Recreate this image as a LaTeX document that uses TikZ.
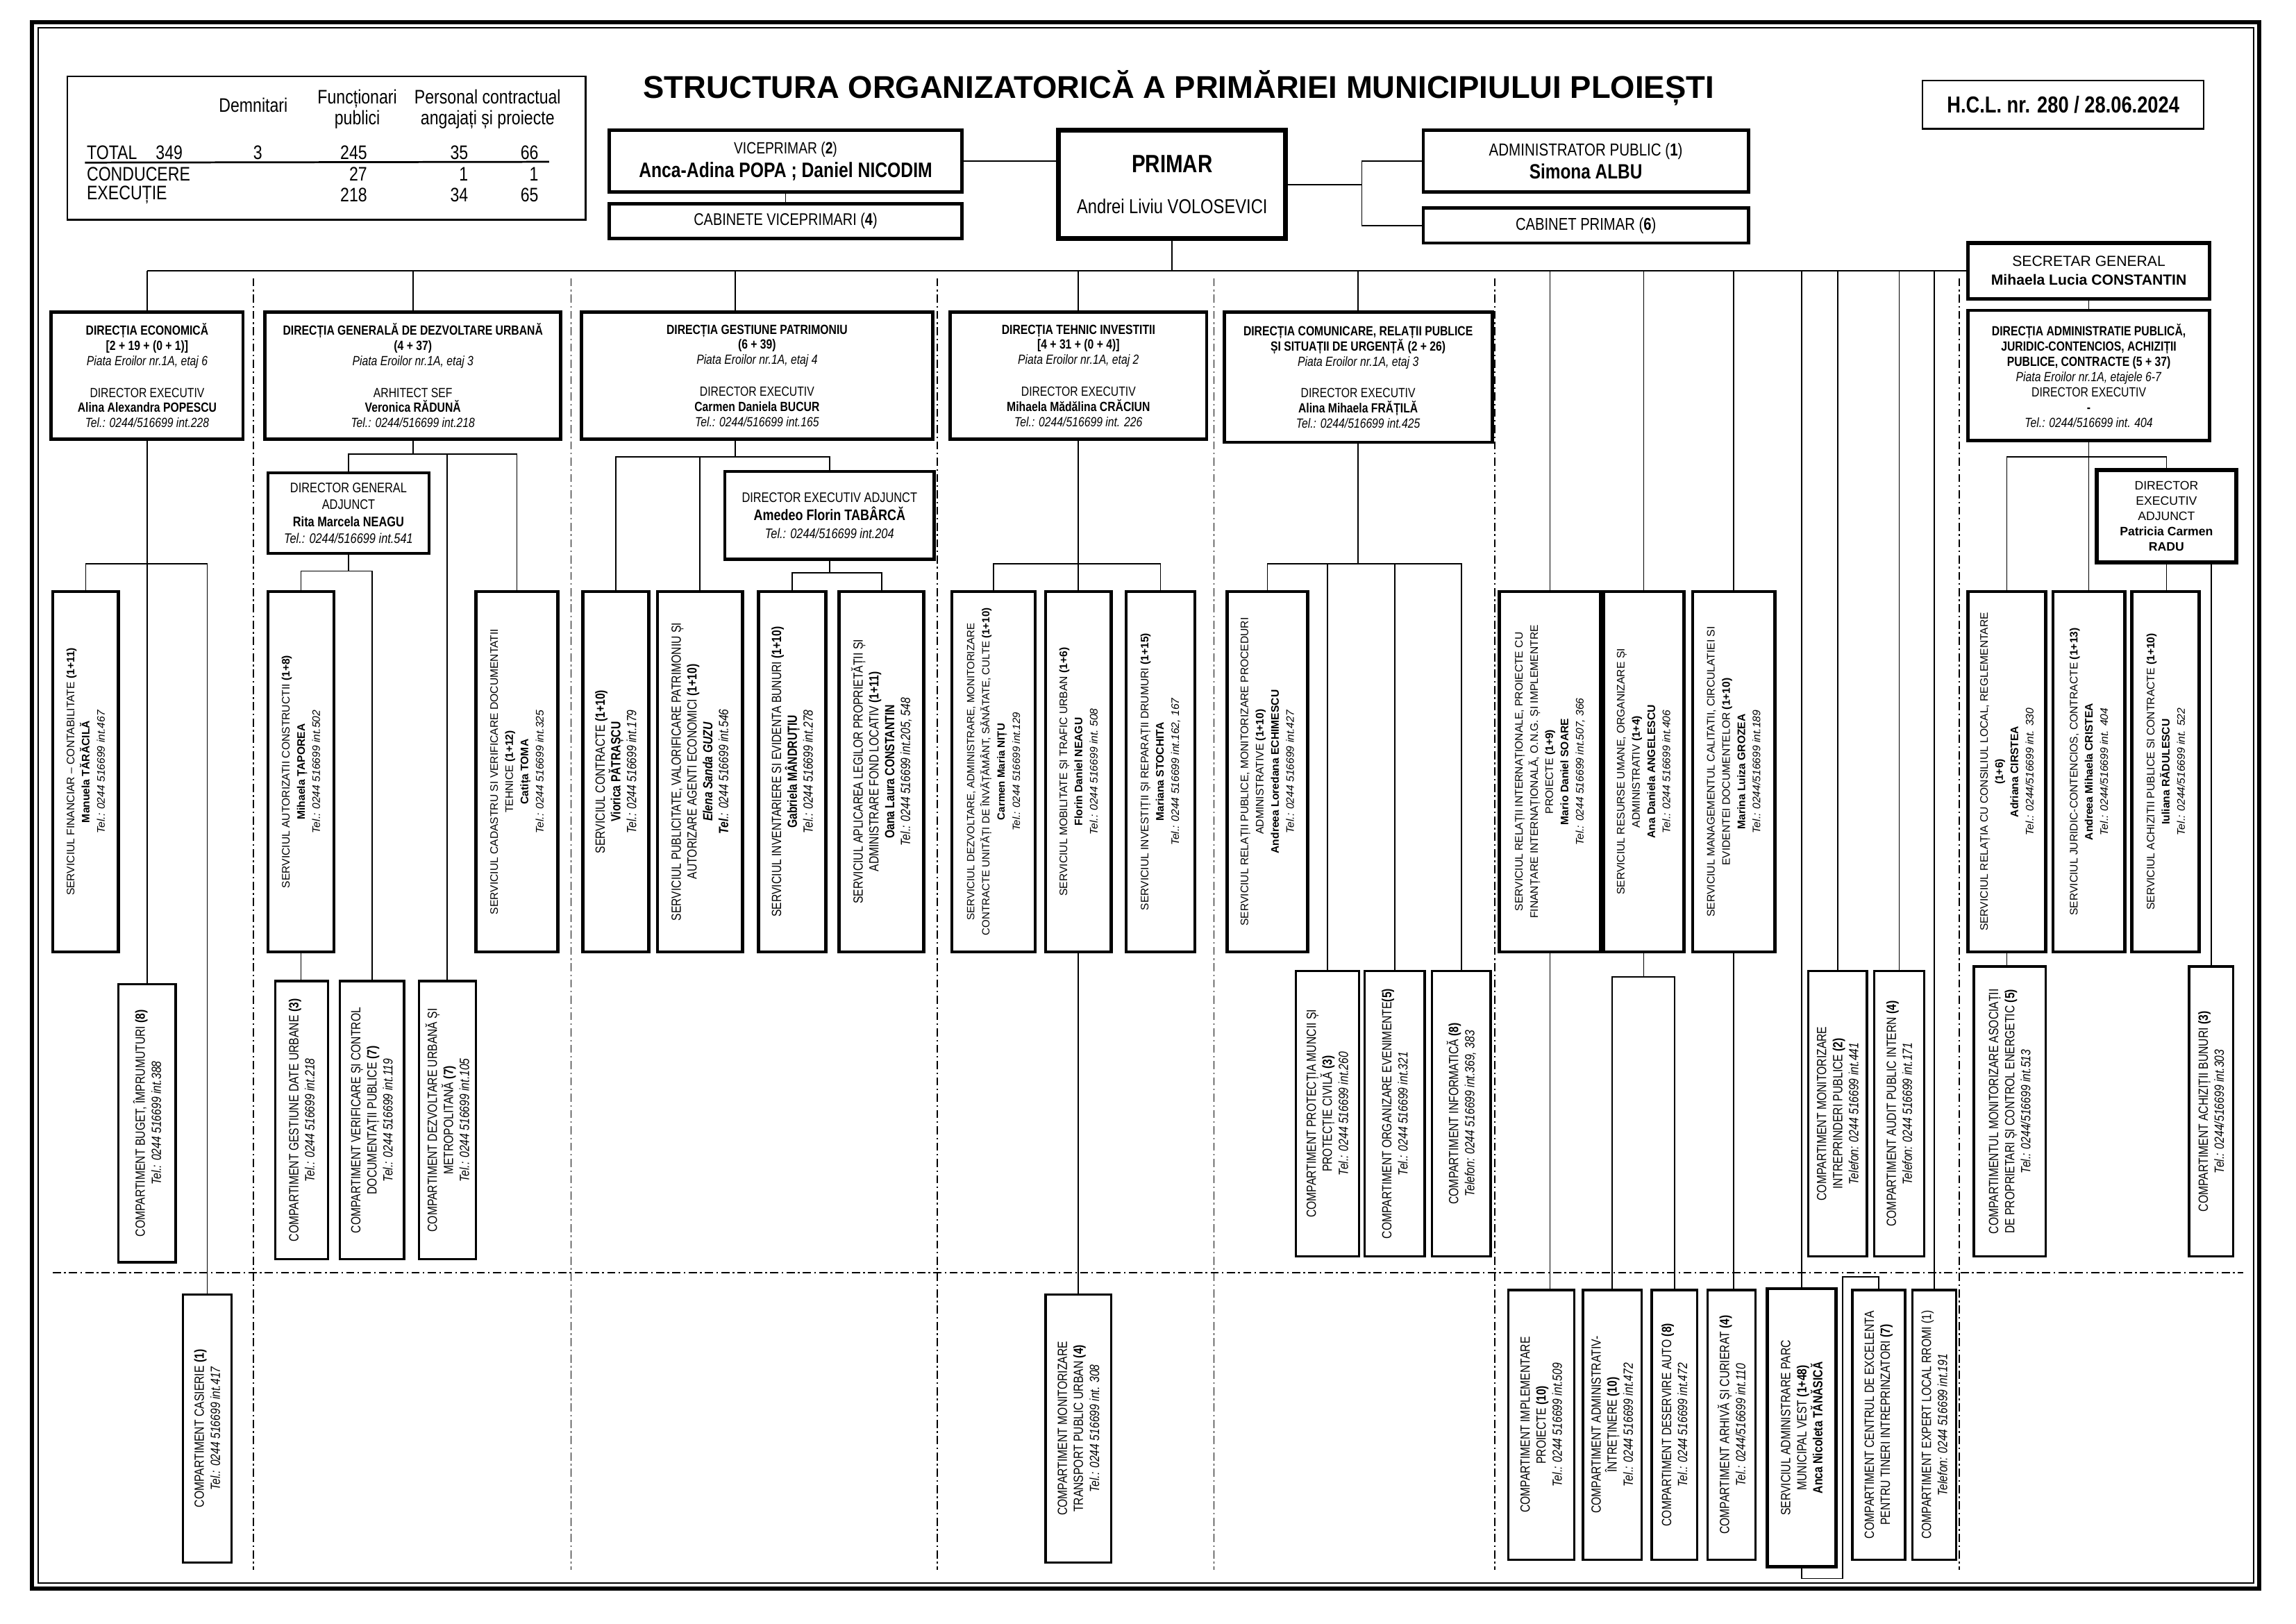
\documentclass[tikz,border=0pt]{standalone}
\usepackage{fontspec}
\setmainfont{Liberation Sans}
\newfontfamily\narrowf{Liberation Sans}[FakeStretch=0.82]
\newcommand{\pu}{0.018941cm}
\newcommand{\setfs}[2]{\fontsize{#1}{#2}\selectfont}
\tikzset{
  cell/.style={draw, fill=white, align=center, inner sep=0pt, outer sep=0pt},
  unit/.style={cell, line width=1.2pt},
  comp/.style={cell, line width=0.85pt},
  hsz/.style 2 args={minimum width=#1*\pu, minimum height=#2*\pu},
  vsz/.style 2 args={rotate=90, minimum width=#2*\pu, minimum height=#1*\pu},
  dirfont/.style={font=\narrowf\setfs{4.9}{5.6}},
  srvfont/.style={font=\setfs{4}{5.6}},
  nsrvfont/.style={font=\narrowf\setfs{4.9}{5.8}},
  cmpfont/.style={font=\narrowf\setfs{4.9}{5.9}},
  link/.style={line width=0.45pt},
}

\begin{document}
\begin{tikzpicture}[x=\pu, y=-\pu,
  sepline/.style={line width=0.45pt, dash pattern=on 3pt off 1.2pt on 0.6pt off 1.2pt}]
  \useasboundingbox (0,0) rectangle (1568,1109);
  \fill[white] (0,0) rectangle (1568,1109);

  % --- chenar
  \draw[line width=1.5pt] (22,15) rectangle (1543,1085);
  \draw[line width=0.5pt] (26,19) rectangle (1539,1081);

  % --- separatoare
  \foreach \x in {173,390,640,829,1021,1338}{ \draw[sepline] (\x,190) -- (\x,1072); }
  \draw[sepline] (36,869) -- (1532,869);

  % --- antet
  \node[font=\bfseries\setfs{11.6}{13}] (title) at (805,60) {STRUCTURA ORGANIZATORICĂ A PRIMĂRIEI MUNICIPIULUI PLOIEȘTI};
  \node[cell, line width=0.6pt, hsz={192}{33}, font=\narrowf\bfseries\setfs{8.5}{10}] (hcl) at (1409,71.5) {H.C.L. nr. 280 / 28.06.2024};

  % --- tabel efective
  \node[cell, line width=0.6pt, hsz={354}{98}] (tbl) at (223,101) {};
  \begin{scope}[font=\narrowf\setfs{7.2}{7.6}, every node/.style={inner sep=0.5pt, align=center}]
    \node (hdem) at (173,72) {Demnitari};
    \node (hfun) at (244,74.5) {Funcționari\\publici};
    \node (hpc)  at (333,74.5) {Personal contractual\\angajați și proiecte};
    \node[anchor=west] (rtot) at (58,104) {TOTAL};
    \node[anchor=west] (rcon) at (58,119) {CONDUCERE};
    \node[anchor=west] (rexe) at (58,133) {EXECUȚIE};
    \node[anchor=east] (vtot) at (126,104) {349};
    \node (vdem) at (176,104) {3};
    \foreach \v/\x/\y in {245/252/104, 35/321/104, 66/369/104, 27/252/119, 1/321/119, 1/369/119, 218/252/133, 34/321/133, 65/369/133}{
      \node[anchor=east] (v-\x-\y) at (\x,\y) {\v}; }
  \end{scope}
  \draw[line width=0.7pt] (rtot.south west) ++(0,1) -- (375,110.5);

  % --- conducere
  \node[unit, hsz={241}{42}, font=\narrowf\setfs{6}{8.6}] (vice) at (536.5,110) {VICEPRIMAR (\textbf{2})\\{\setfs{7.7}{8.6}\bfseries Anca-Adina POPA ; Daniel NICODIM}};
  \node[unit, hsz={241}{24}, font=\narrowf\setfs{6.2}{7}] (cabv) at (536.5,151) {CABINETE VICEPRIMARI (\textbf{4})};
  \node[unit, line width=1.8pt, hsz={155}{74}, font=\narrowf\setfs{7.4}{10}] (primar) at (800.5,126) {{\setfs{9.2}{10}\bfseries PRIMAR}\\[5pt]Andrei Liviu VOLOSEVICI};
  \node[unit, hsz={222}{42}, font=\narrowf\setfs{6.4}{8.6}] (admin) at (1083,110) {ADMINISTRATOR PUBLIC (\textbf{1})\\{\setfs{7.6}{8.6}\bfseries Simona ALBU}};
  \node[unit, hsz={222}{24}, font=\narrowf\setfs{6.3}{7}] (cabp) at (1083,154) {CABINET PRIMAR (\textbf{6})};
  \node[unit, line width=1.4pt, hsz={165}{38}, font=\setfs{5.4}{6.9}] (secgen) at (1426.5,185) {SECRETAR GENERAL\\\textbf{Mihaela Lucia CONSTANTIN}};

  \draw[link] (vice.east) -- (primar.west |- vice.east);
  \draw[link] (vice.south) -- (cabv.north);
  \draw[link] (primar.east) -- ++(52,0) coordinate (pj);
  \draw[link] (admin.west) -| (pj);
  \draw[link] (cabp.west) -| (pj);

  % --- directii
  \node[unit, hsz={131}{87}, dirfont] (de) at (100.5,256.5) {\textbf{DIRECȚIA ECONOMICĂ}\\\textbf{[2 + 19 + (0 + 1)]}\\\textit{Piata Eroilor nr.1A, etaj 6}\\[6pt]DIRECTOR EXECUTIV\\\textbf{Alina Alexandra POPESCU}\\\textit{Tel.: 0244/516699 int.228}};
  \node[unit, hsz={202}{87}, dirfont] (dgdu) at (282,256.5) {\textbf{DIRECȚIA GENERALĂ DE DEZVOLTARE URBANĂ}\\\textbf{(4 + 37)}\\\textit{Piata Eroilor nr.1A, etaj 3}\\[6pt]ARHITECT SEF\\\textbf{Veronica RĂDUNĂ}\\\textit{Tel.: 0244/516699 int.218}};
  \node[unit, hsz={240}{87}, dirfont] (dgp) at (517,256.5) {\textbf{DIRECȚIA GESTIUNE PATRIMONIU}\\\textbf{(6 + 39)}\\\textit{Piata Eroilor nr.1A, etaj 4}\\[6pt]DIRECTOR EXECUTIV\\\textbf{Carmen Daniela BUCUR}\\\textit{Tel.: 0244/516699 int.165}};
  \node[unit, hsz={175}{87}, dirfont] (dti) at (736.5,256.5) {\textbf{DIRECȚIA TEHNIC INVESTITII}\\\textbf{[4 + 31 + (0 + 4)]}\\\textit{Piata Eroilor nr.1A, etaj 2}\\[6pt]DIRECTOR EXECUTIV\\\textbf{Mihaela Mădălina CRĂCIUN}\\\textit{Tel.: 0244/516699 int. 226}};
  \node[unit, hsz={183}{89}, dirfont] (dcrp) at (927.5,257.5) {\textbf{DIRECȚIA COMUNICARE, RELAȚII PUBLICE}\\\textbf{ȘI SITUAȚII DE URGENȚĂ (2 + 26)}\\\textit{Piata Eroilor nr.1A, etaj 3}\\[6pt]DIRECTOR EXECUTIV\\\textbf{Alina Mihaela FRĂȚILĂ}\\\textit{Tel.: 0244/516699 int.425}};
  \node[unit, hsz={165}{89}, dirfont] (dap) at (1426.5,256.5) {\textbf{DIRECȚIA ADMINISTRATIE PUBLICĂ,}\\\textbf{JURIDIC-CONTENCIOS, ACHIZIȚII}\\\textbf{PUBLICE, CONTRACTE (5 + 37)}\\\textit{Piata Eroilor nr.1A, etajele 6-7}\\DIRECTOR EXECUTIV\\\textbf{-}\\\textit{Tel.: 0244/516699 int. 404}};

  % --- bara principala
  \draw[link] (primar.south) -- (primar.south |- secgen.west);
  \draw[link] (de.north |- secgen.west) -- (secgen.west);
  \foreach \n in {de,dgdu,dti,dcrp}{ \draw[link] (\n.north) -- (\n.north |- secgen.west); }
  \draw[link] ([xshift=-15*\pu]dgp.north) -- ([xshift=-15*\pu]dgp.north |- secgen.west);
  \draw[link] (secgen.south) -- (dap.north);

  % --- adjuncti
  \node[unit, line width=1.1pt, hsz={110}{55}, font=\narrowf\setfs{5.1}{6.2}] (dga) at (238,350.5) {DIRECTOR GENERAL\\ADJUNCT\\\textbf{Rita Marcela NEAGU}\\\textit{Tel.: 0244/516699 int.541}};
  \node[unit, hsz={143}{60}, font=\narrowf\setfs{5.1}{6.6}] (dea) at (566.5,352) {DIRECTOR EXECUTIV ADJUNCT\\{\setfs{5.6}{6.6}\bfseries Amedeo Florin TABÂRCĂ}\\\textit{Tel.: 0244/516699 int.204}};
  \node[unit, line width=1.5pt, hsz={95}{63}, font=\setfs{4.5}{5.6}] (dea2) at (1479.5,352.5) {DIRECTOR\\EXECUTIV\\ADJUNCT\\\textbf{Patricia Carmen}\\\textbf{RADU}};

  % --- servicii
  \node[unit, vsz={45}{246}, srvfont] (sfc) at (58.5,527) {SERVICIUL FINANCIAR – CONTABILITATE \textbf{(1+11)}\\\textbf{Manuela TĂRĂCILĂ}\\\textit{Tel.: 0244 516699 int.467}};
  \node[unit, vsz={45}{246}, srvfont] (sac) at (205.5,527) {SERVICIUL AUTORIZATII CONSTRUCTII \textbf{(1+8)}\\\textbf{Mihaela ȚAPOREA}\\\textit{Tel.: 0244 516699 int.502}};
  \node[unit, vsz={56}{246}, srvfont] (scad) at (353,527) {SERVICIUL CADASTRU SI VERIFICARE DOCUMENTATII\\TEHNICE \textbf{(1+12)}\\\textbf{Catița TOMA}\\\textit{Tel.: 0244 516699 int.325}};
  \node[unit, vsz={45}{246}, nsrvfont] (scon) at (420.5,527) {SERVICIUL CONTRACTE \textbf{(1+10)}\\\textbf{Viorica PĂTRAȘCU}\\\textit{Tel.: 0244 516699 int.179}};
  \node[unit, vsz={58}{246}, nsrvfont] (spub) at (478,527) {SERVICIUL PUBLICITATE, VALORIFICARE PATRIMONIU ȘI\\AUTORIZARE AGENTI ECONOMICI \textbf{(1+10)}\\\textbf{\textit{Elena Sanda GUZU}}\\\textit{\textbf{Tel}.: 0244 516699 int.546}};
  \node[unit, vsz={46}{246}, nsrvfont] (sinv) at (541,527) {SERVICIUL INVENTARIERE SI EVIDENTA BUNURI \textbf{(1+10)}\\\textbf{Gabriela MÂNDRUȚIU}\\\textit{Tel.: 0244 516699 int.278}};
  \node[unit, vsz={58}{246}, nsrvfont] (sapl) at (602,527) {SERVICIUL APLICAREA LEGILOR PROPRIETĂȚII ȘI\\ADMINISTRARE FOND LOCATIV \textbf{(1+11)}\\\textbf{Oana Laura CONSTANTIN}\\\textit{Tel.: 0244 516699 int.205, 548}};
  \node[unit, vsz={57}{246}, font=\setfs{3.85}{5.6}] (sdez) at (678.5,527) {SERVICIUL DEZVOLTARE, ADMINISTRARE, MONITORIZARE\\CONTRACTE UNITĂȚI DE ÎNVĂȚĂMÂNT, SĂNĂTATE, CULTE \textbf{(1+10)}\\\textbf{Carmen Maria NIȚU}\\\textit{Tel.: 0244 516699 int.129}};
  \node[unit, vsz={45}{246}, srvfont] (smob) at (736.5,527) {SERVICIUL MOBILITATE ȘI TRAFIC URBAN \textbf{(1+6)}\\\textbf{Florin Daniel NEAGU}\\\textit{Tel.: 0244 516699 int.\ 508}};
  \node[unit, vsz={47}{246}, srvfont] (sinvd) at (792.5,527) {SERVICIUL INVESTIȚII ȘI REPARAȚII DRUMURI \textbf{(1+15)}\\\textbf{Mariana STOCHITA}\\\textit{Tel.: 0244 516699 int.162, 167}};
  \node[unit, vsz={55}{246}, srvfont] (srp) at (865.5,527) {SERVICIUL RELAȚII PUBLICE, MONITORIZARE PROCEDURI\\ADMINISTRATIVE \textbf{(1+10)}\\\textbf{Andreea Loredana ECHIMESCU}\\\textit{Tel.: 0244 516699 int.427}};
  \node[unit, vsz={69}{246}, srvfont] (sri) at (1058.5,527) {SERVICIUL RELAȚII INTERNAȚIONALE, PROIECTE CU\\FINANȚARE INTERNAȚIONALĂ, O.N.G. ȘI IMPLEMENTRE\\PROIECTE \textbf{(1+9)}\\\textbf{Mario Daniel SOARE}\\\textit{Tel.: 0244 516699 int.507, 366}};
  \node[unit, vsz={55}{246}, srvfont] (sru) at (1122.5,527) {SERVICIUL RESURSE UMANE, ORGANIZARE ȘI\\ADMINISTRATIV \textbf{(1+4)}\\\textbf{Ana Daniela ANGELESCU}\\\textit{Tel.: 0244 516699 int.406}};
  \node[unit, vsz={56}{246}, srvfont] (smc) at (1184,527) {SERVICIUL MANAGEMENTUL CALITATII, CIRCULATIEI SI\\EVIDENTEI DOCUMENTELOR \textbf{(1+10)}\\\textbf{Marina Luiza GROZEA}\\\textit{Tel.: 0244/516699 int.189}};
  \node[unit, vsz={53}{246}, srvfont] (srcl) at (1370.5,527) {SERVICIUL RELAȚIA CU CONSILIUL LOCAL, REGLEMENTARE\\\textbf{(1+6)}\\\textbf{Adriana CIRSTEA}\\\textit{Tel.: 0244/516699 int. 330}};
  \node[unit, vsz={49}{246}, srvfont] (sjc) at (1426.5,527) {SERVICIUL JURIDIC-CONTENCIOS, CONTRACTE \textbf{(1+13)}\\\textbf{Andreea Mihaela CRISTEA}\\\textit{Tel.: 0244/516699 int. 404}};
  \node[unit, vsz={46}{246}, srvfont] (sach) at (1479,527) {SERVICIUL ACHIZITII PUBLICE SI CONTRACTE \textbf{(1+10)}\\\textbf{Iuliana RĂDULESCU}\\\textit{Tel.: 0244/516699 int. 522}};

  % --- compartimente (randul din mijloc)
  \node[comp, vsz={39}{190}, cmpfont] (cbug) at (100.5,767) {COMPARTIMENT BUGET, ÎMPRUMUTURI \textbf{(8)}\\\textit{Tel.: 0244 516699 int.388}};
  \node[comp, vsz={36}{190}, cmpfont] (cgdu) at (206,765) {COMPARTIMENT GESTIUNE DATE URBANE \textbf{(3)}\\\textit{Tel.: 0244 516699 int.218}};
  \node[comp, vsz={44}{190}, cmpfont] (cver) at (254,765) {COMPARTIMENT VERIFICARE ȘI CONTROL\\DOCUMENTAȚII PUBLICE \textbf{(7)}\\\textit{Tel.: 0244 516699 int.119}};
  \node[comp, vsz={39}{190}, cmpfont] (cdez) at (305.5,765) {COMPARTIMENT DEZVOLTARE URBANĂ ȘI\\METROPOLITANĂ \textbf{(7)}\\\textit{Tel.: 0244 516699 int.105}};
  \node[comp, vsz={43}{195}, cmpfont] (cpm) at (906.5,760.5) {COMPARTIMENT PROTECȚIA MUNCII ȘI\\PROTECȚIE CIVILĂ \textbf{(3)}\\\textit{Tel.: 0244 516699 int.260}};
  \node[comp, vsz={41}{195}, cmpfont] (coe) at (952.5,760.5) {COMPARTIMENT ORGANIZARE EVENIMENTE\textbf{(5)}\\\textit{Tel.: 0244 516699 int.321}};
  \node[comp, vsz={40}{195}, cmpfont] (cinf) at (998,760.5) {COMPARTIMENT INFORMATICĂ \textbf{(8)}\\\textit{Telefon: 0244 516699 int.369, 383}};
  \node[comp, vsz={40}{195}, cmpfont] (cmip) at (1255,760.5) {COMPARTIMENT MONITORIZARE\\INTREPRINDERI PUBLICE \textbf{(2)}\\\textit{Telefon: 0244 516699 int.441}};
  \node[comp, vsz={34}{195}, cmpfont] (capi) at (1297,760.5) {COMPARTIMENT AUDIT PUBLIC INTERN \textbf{(4)}\\\textit{Telefon: 0244 516699 int.171}};
  \node[comp, vsz={49}{198}, cmpfont] (cmap) at (1372.5,759) {COMPARTIMENTUL MONITORIZARE ASOCIAȚII\\DE PROPRIETARI ȘI CONTROL ENERGETIC \textbf{(5)}\\\textit{Tel.: 0244/516699 int.513}};
  \node[comp, vsz={30}{198}, cmpfont] (cab) at (1510,759) {COMPARTIMENT ACHIZIȚII BUNURI \textbf{(3)}\\\textit{Tel.: 0244/516699 int.303}};

  % --- compartimente (randul de jos)
  \node[comp, vsz={33}{183}, cmpfont] (ccas) at (141.5,975.5) {COMPARTIMENT CASIERIE \textbf{(1)}\\\textit{Tel.: 0244 516699 int.417}};
  \node[comp, vsz={45}{183}, cmpfont] (cmtp) at (736.5,975.5) {COMPARTIMENT MONITORIZARE\\TRANSPORT PUBLIC URBAN \textbf{(4)}\\\textit{Tel.: 0244 516699 int. 308}};
  \node[comp, vsz={45}{184}, cmpfont] (cip) at (1052.5,973) {COMPARTIMENT IMPLEMENTARE\\PROIECTE \textbf{(10)}\\\textit{Tel.: 0244 516699 int.509}};
  \node[comp, vsz={40}{184}, cmpfont] (cadm) at (1101,973) {COMPARTIMENT ADMINISTRATIV-\\ÎNTREȚINERE \textbf{(10)}\\\textit{Tel.: 0244 516699 int.472}};
  \node[comp, vsz={31}{184}, cmpfont] (cda) at (1143.5,973) {COMPARTIMENT DESERVIRE AUTO \textbf{(8)}\\\textit{Tel.: 0244 516699 int.472}};
  \node[comp, vsz={33}{184}, cmpfont] (carh) at (1182.5,973) {COMPARTIMENT ARHIVĂ ȘI CURIERAT \textbf{(4)}\\\textit{Tel.: 0244/516699 int.110}};
  \node[unit, vsz={47}{190}, cmpfont] (sparc) at (1230.5,975) {SERVICIUL ADMINISTRARE PARC\\MUNICIPAL VEST \textbf{(1+48)}\\\textbf{Anca Nicoleta TĂNĂSICĂ}};
  \node[comp, vsz={36}{184}, cmpfont] (cce) at (1283,973) {COMPARTIMENT CENTRUL DE EXCELENTA\\PENTRU TINERI INTREPRINZATORI \textbf{(7)}};
  \node[comp, vsz={30}{184}, cmpfont] (celr) at (1321,973) {COMPARTIMENT EXPERT LOCAL RROMI (1)\\\textit{Telefon: 0244 516699 int.191}};

  % --- legaturi directia economica
  \draw[link] (de.south) -- (de.south |- cbug.east);
  \path (de.south) ++(0,85) coordinate (deb);
  \draw[link] (sfc.east) |- (deb) -| (ccas.east);

  % --- legaturi DGDU
  \draw[link] (dgdu.south) -- ++(0,10) coordinate (gdb);
  \draw[link] (dga.north) |- (gdb) -| (scad.east);
  \draw[link] (cdez.east) -- (cdez.east |- gdb);
  \draw[link] (dga.south) -- ++(0,12) coordinate (gab);
  \draw[link] (sac.east) |- (gab) -| (cver.east);
  \draw[link] (sac.west) -- (sac.west |- cgdu.east);

  % --- legaturi gestiune patrimoniu
  \draw[link] ([xshift=-15*\pu]dgp.south) -- ++(0,12) coordinate (gpb);
  \draw[link] (scon.east) |- (gpb) -| (dea.north);
  \draw[link] (spub.east) -- (spub.east |- gpb);
  \draw[link] (dea.south) -- ++(0,9) coordinate (eab);
  \draw[link] (sinv.east) |- (eab) -| (sapl.east);

  % --- legaturi tehnic investitii
  \draw[link] (dti.south) -- ++(0,85) coordinate (tib);
  \draw[link] (sdez.east) |- (tib) -| (sinvd.east);
  \draw[link] (smob.east) -- (smob.east |- tib);
  \draw[link] (smob.west) -- (smob.west |- cmtp.east);

  % --- legaturi comunicare
  \draw[link] (dcrp.south) -- ++(0,83) coordinate (crb);
  \draw[link] (srp.east) |- (crb) -| (cinf.east);
  \foreach \n in {cpm,coe}{ \draw[link] (\n.east) -- (\n.east |- crb); }

  % --- structuri direct subordonate
  \foreach \n in {sri,sru,smc,sparc,cmip,capi,celr}{ \draw[link] (\n.east) -- (\n.east |- secgen.west); }
  \draw[link] (sri.west) -- (sri.west |- cip.east);
  \draw[link] (sru.west) -- ++(0,17) coordinate (rub);
  \draw[link] (cadm.east) |- (rub) -| (cda.east);
  \draw[link] (smc.west) -- (smc.west |- carh.east);
  \draw[link] (sparc.west) -- ++(0,8) -| ++(28,-206) -| (cce.east);

  % --- legaturi administratie publica
  \draw[link] (dap.south) -- (dap.south |- sjc.east);
  \path (dap.south) ++(0,11) coordinate (apb);
  \draw[link] (srcl.east) |- (apb) -| (dea2.north);
  \draw[link] (dea2.south) -- (dea2.south |- sach.east);
  \draw[link] (srcl.west) -- (srcl.west |- cmap.east);
  \draw[link] (cab.east |- dea2.south) -- (cab.east);
\end{tikzpicture}
\end{document}
